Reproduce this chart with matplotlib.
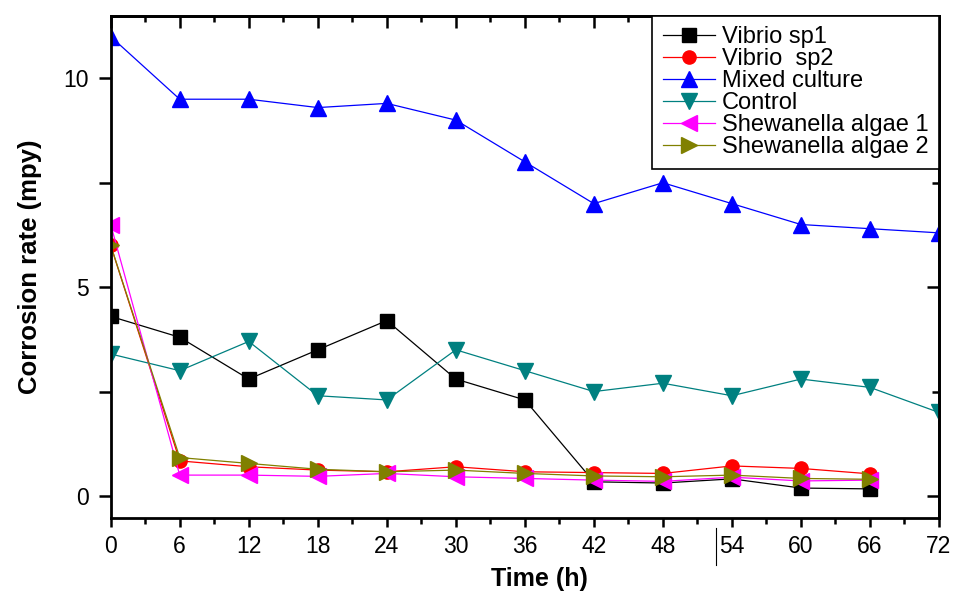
import matplotlib.pyplot as plt
from matplotlib.lines import Line2D
import numpy as np

plt.rcParams['font.family'] = ['Liberation Sans', 'DejaVu Sans']

# tiempo (h)
t_full = [0, 6, 12, 18, 24, 30, 36, 42, 48, 54, 60, 66, 72]
t_short = [0, 6, 12, 18, 24, 30, 36, 42, 48, 54, 60, 66]

vibrio1 = [4.3, 3.8, 2.8, 3.5, 4.2, 2.8, 2.3, 0.34, 0.31, 0.41, 0.19, 0.17]
vibrio2 = [6.0, 0.84, 0.70, 0.62, 0.58, 0.70, 0.58, 0.56, 0.54, 0.72, 0.66, 0.53]
mixed = [11.0, 9.5, 9.5, 9.3, 9.4, 9.0, 8.0, 7.0, 7.5, 7.0, 6.5, 6.4, 6.3]
control = [3.4, 3.0, 3.7, 2.4, 2.3, 3.5, 3.0, 2.5, 2.7, 2.4, 2.8, 2.6, 2.0]
shew1 = [6.5, 0.50, 0.50, 0.47, 0.54, 0.46, 0.42, 0.38, 0.35, 0.45, 0.36, 0.38]
shew2 = [6.0, 0.92, 0.78, 0.64, 0.58, 0.62, 0.54, 0.48, 0.46, 0.50, 0.42, 0.40]

fig = plt.figure(figsize=(9.56, 5.92), dpi=100)
ax = fig.add_axes([0.1158, 0.1255, 0.8664, 0.848])

ax.plot(t_short, vibrio1, color='black', marker='s', ms=9.5, lw=0.9, label='Vibrio sp1')
ax.plot(t_short, vibrio2, color='red', marker='o', ms=9.5, lw=0.9, label='Vibrio  sp2')
ax.plot(t_full, mixed, color='blue', marker='^', ms=11.5, lw=0.9, label='Mixed culture')
ax.plot(t_full, control, color='#008080', marker='v', ms=11.5, lw=0.9, label='Control')
ax.plot(t_short, shew1, color='magenta', marker='<', ms=11.5, lw=0.9, label='Shewanella algae 1')
ax.plot(t_short, shew2, color='#808000', marker='>', ms=11.5, lw=0.9, label='Shewanella algae 2')

ax.set_xlim(0, 72)
ax.set_ylim(-0.52, 11.5)
xt = np.arange(0, 73, 6)
xm = np.arange(3, 72, 6)
ax.set_xticks(xt)
ax.set_xticks(xm, minor=True)
ax.set_yticks([0, 5, 10])
ax.set_yticks([2.5, 7.5], minor=True)

for s in ax.spines.values():
    s.set_linewidth(2)

ax.tick_params(axis='x', which='major', direction='out', length=6.5, width=1.8, pad=6)
ax.tick_params(axis='x', which='minor', direction='out', length=4, width=1.8)
ax.tick_params(axis='y', which='major', direction='out', length=8.5, width=1.8, pad=7, labelsize=16.5)
ax.tick_params(axis='y', which='minor', direction='out', length=8.5, width=1.8)
for lab in ax.get_xticklabels():
    lab.set_family(['Liberation Sans Narrow', 'Liberation Sans'])
    lab.set_fontsize(16.5)

# ticks hacia dentro arriba y a la derecha
top = ax.secondary_xaxis('top')
top.set_xticks(xt)
top.set_xticks(xm, minor=True)
top.tick_params(which='major', direction='in', length=8.5, width=1.8, labeltop=False)
top.tick_params(which='minor', direction='in', length=4.5, width=1.8)
top.spines['top'].set_linewidth(2)
right = ax.secondary_yaxis('right')
right.set_yticks([0, 5, 10])
right.set_yticks([2.5, 7.5], minor=True)
right.tick_params(which='major', direction='in', length=8.5, width=1.8, labelright=False)
right.tick_params(which='minor', direction='in', length=5, width=1.8)
right.spines['right'].set_linewidth(2)

ax.set_xlabel('Time (h)', fontsize=18, fontweight='bold')
ax.xaxis.set_label_coords(0.518, -0.098)
ax.set_ylabel('Corrosion rate (mpy)', fontsize=18.5, fontweight='bold')
ax.yaxis.set_label_coords(-0.083, 0.5)

leg = ax.legend(loc='upper right', fontsize=17, frameon=True, fancybox=False,
                edgecolor='black', handlelength=2.2, labelspacing=0.0,
                borderpad=0.45, borderaxespad=0.0, handletextpad=0.3,
                framealpha=1)
leg.get_frame().set_linewidth(1.2)

# linea suelta cerca del 54
fig.add_artist(Line2D([716 / 956, 716 / 956], [1 - 528 / 592, 1 - 565 / 592],
                      color='black', lw=0.8))

fig.savefig('out.png', dpi=100)
